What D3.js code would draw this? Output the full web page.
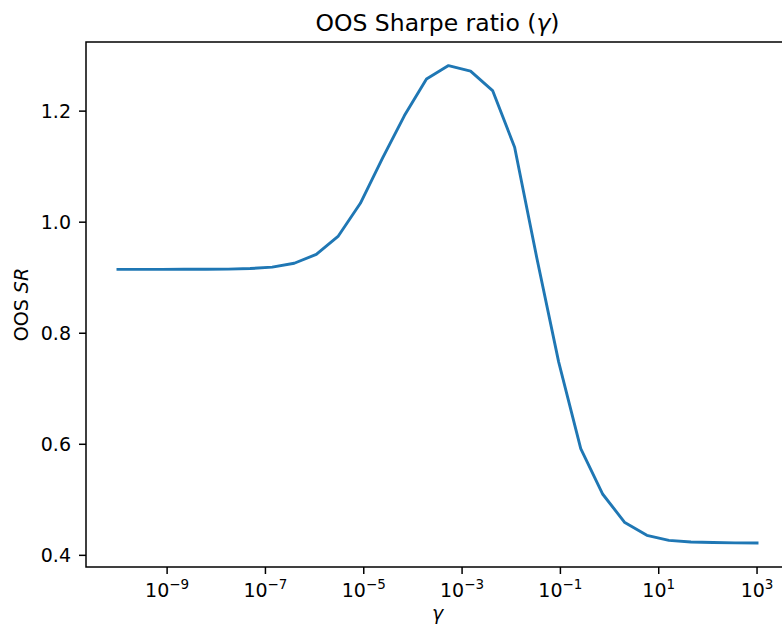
<!DOCTYPE html>
<html>
<head>
<meta charset="utf-8">
<script src="https://cdn.jsdelivr.net/npm/d3@7"></script>
<style>
  body { margin: 0; background: #fff; }
  svg { display: block; font-family: "DejaVu Sans", sans-serif; }
</style>
</head>
<body>
<svg width="782" height="630"></svg>
<script>
// gamma grid: 30 log-spaced points from 1e-10 to 1e3
const gammaExp = [-10, -9.5517, -9.1034, -8.6552, -8.2069, -7.7586, -7.3103, -6.8621, -6.4138, -5.9655,
  -5.5172, -5.069, -4.6207, -4.1724, -3.7241, -3.2759, -2.8276, -2.3793, -1.931, -1.4828,
  -1.0345, -0.5862, -0.1379, 0.3103, 0.7586, 1.2069, 1.6552, 2.1034, 2.5517, 3];
const sharpe = [0.915, 0.915, 0.915, 0.9151, 0.9152, 0.9155, 0.9165, 0.919, 0.926, 0.942,
  0.975, 1.034, 1.115, 1.192, 1.258, 1.282, 1.272, 1.237, 1.135, 0.937,
  0.748, 0.592, 0.51, 0.459, 0.436, 0.427, 0.424, 0.423, 0.4225, 0.4222];
const xTickExp = [-9, -7, -5, -3, -1, 1, 3];
const yTicks = [0.4, 0.6, 0.8, 1.0, 1.2];

const svg = d3.select('svg');
const margin = {left: 86, top: 42, right: 789, bottom: 567};
const blue = '#1f77b4';

const x = d3.scaleLog()
  .domain([Math.pow(10, -10.65), Math.pow(10, 3.65)])
  .range([margin.left, margin.right]);
const y = d3.scaleLinear()
  .domain([0.379, 1.3245])
  .range([margin.bottom, margin.top]);

const data = gammaExp.map((e, i) => ({g: Math.pow(10, e), v: sharpe[i]}));

// line
svg.append('path')
  .datum(data)
  .attr('fill', 'none')
  .attr('stroke', blue)
  .attr('stroke-width', 2.9)
  .attr('stroke-linejoin', 'round')
  .attr('stroke-linecap', 'square')
  .attr('d', d3.line().x(d => x(d.g)).y(d => y(d.v)));

// frame
svg.append('rect')
  .attr('x', margin.left).attr('y', margin.top)
  .attr('width', margin.right - margin.left)
  .attr('height', margin.bottom - margin.top)
  .attr('fill', 'none').attr('stroke', '#000').attr('stroke-width', 1.5);

// x ticks
const xt = svg.append('g');
xTickExp.forEach(e => {
  const px = x(Math.pow(10, e));
  xt.append('line')
    .attr('x1', px).attr('x2', px)
    .attr('y1', margin.bottom).attr('y2', margin.bottom + 7)
    .attr('stroke', '#000').attr('stroke-width', 1.5);
  const t = xt.append('text')
    .attr('x', px).attr('y', margin.bottom + 30)
    .attr('text-anchor', 'middle')
    .attr('font-size', 19);
  t.append('tspan').text('10');
  t.append('tspan')
    .attr('dy', -8).attr('font-size', 13.5)
    .text(e < 0 ? '\u2212' + Math.abs(e) : String(e));
});

// y ticks
const yt = svg.append('g');
yTicks.forEach(v => {
  const py = y(v);
  yt.append('line')
    .attr('x1', margin.left - 7).attr('x2', margin.left)
    .attr('y1', py).attr('y2', py)
    .attr('stroke', '#000').attr('stroke-width', 1.5);
  yt.append('text')
    .attr('x', margin.left - 15).attr('y', py)
    .attr('dy', '0.36em')
    .attr('text-anchor', 'end')
    .attr('font-size', 19)
    .text(v.toFixed(1));
});

// title
const title = svg.append('text')
  .attr('x', (margin.left + margin.right) / 2).attr('y', 31)
  .attr('text-anchor', 'middle')
  .attr('font-size', 23.5);
title.append('tspan').text('OOS Sharpe ratio (');
title.append('tspan').attr('font-style', 'italic').text('\u03b3');
title.append('tspan').text(')');

// x label
svg.append('text')
  .attr('x', (margin.left + margin.right) / 2).attr('y', 620)
  .attr('text-anchor', 'middle')
  .attr('font-size', 19)
  .attr('font-style', 'italic')
  .text('\u03b3');

// y label
const yl = svg.append('text')
  .attr('transform', `translate(28,${(margin.top + margin.bottom) / 2}) rotate(-90)`)
  .attr('text-anchor', 'middle')
  .attr('font-size', 19);
yl.append('tspan').text('OOS ');
yl.append('tspan').attr('font-style', 'italic').text('SR');
</script>
</body>
</html>
